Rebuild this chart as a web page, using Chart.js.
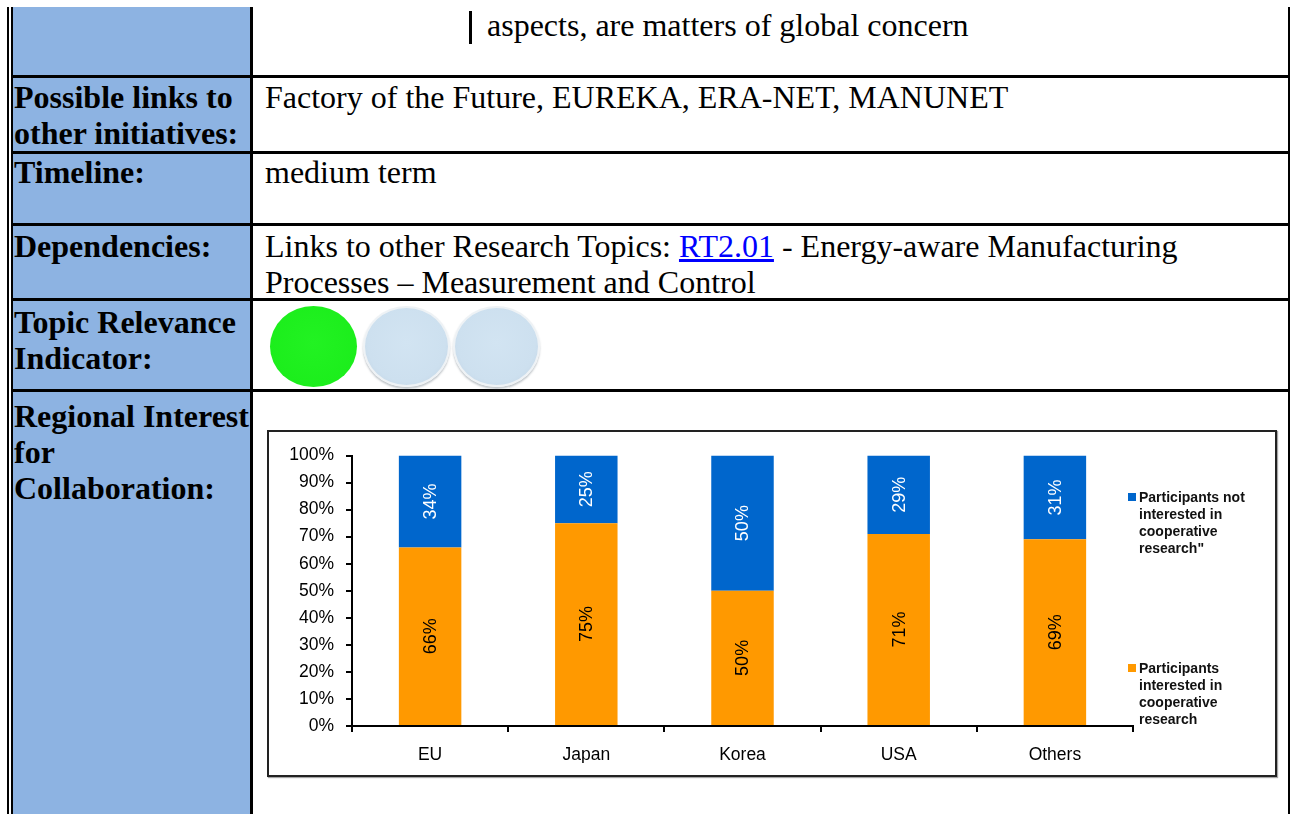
<!DOCTYPE html>
<html>
<head>
<meta charset="utf-8">
<title>Regional Interest for Collaboration</title>
<script src="https://cdn.jsdelivr.net/npm/chart.js@4.4.1/dist/chart.umd.min.js"></script>
<style>
  body {
    margin: 0;
    width: 1292px;
    height: 814px;
    overflow: hidden;
    background: #fff;
    position: relative;
    font-family: "Liberation Serif", "Times New Roman", serif;
  }
  .rule { position: absolute; background: #000; }
  .txt {
    position: absolute;
    font-size: 32px;
    line-height: 36px;
    white-space: nowrap;
    color: #000;
  }
  .lbl { left: 14px; font-weight: bold; }
  .val { left: 265px; }
  .val a { color: #0000ff; text-decoration: underline; }
  .dot {
    position: absolute;
    top: 306px;
    width: 87px;
    height: 81px;
    border-radius: 50%;
    box-sizing: border-box;
  }
  .dot.on {
    background: radial-gradient(circle at 50% 45%, #22f222 0%, #1cee1c 70%, #14dc14 100%);
  }
  .dot.off {
    background: radial-gradient(circle at 50% 45%, #d2e4f2 0%, #cde0ef 65%, #c4d6e6 88%, #f2f5f7 100%);
    border: 2px solid #eef2f5;
    box-shadow: 0 2px 2px rgba(120, 130, 140, 0.45);
  }
  #chartBox {
    position: absolute;
    left: 267px;
    top: 430px;
    width: 1010px;
    height: 347px;
    box-sizing: border-box;
    border: 2px solid #222;
    box-shadow: 1px 1px 1px rgba(0, 0, 0, 0.35);
    background: #fff;
  }
  #chart { position: absolute; left: 1px; top: 1px; }
  .legend {
    position: absolute;
    left: 870px;
    font-family: "Liberation Sans", Arial, sans-serif;
    font-weight: bold;
    font-size: 14px;
    line-height: 17px;
    color: #111;
    white-space: nowrap;
  }
  .legend i {
    position: absolute;
    left: -11px;
    top: 4px;
    width: 8px;
    height: 8px;
  }
</style>
</head>
<body>

<!-- table frame -->
<div class="rule" style="left:13px;top:7px;width:237px;height:820px;background:#8db3e2;"></div>
<div class="rule" style="left:7px;top:7px;width:2px;height:820px;"></div>
<div class="rule" style="left:11px;top:7px;width:2px;height:820px;"></div>
<div class="rule" style="left:250px;top:7px;width:3px;height:820px;"></div>
<div class="rule" style="left:1288px;top:7px;width:2px;height:820px;"></div>
<div class="rule" style="left:11px;top:75px;width:1279px;height:3px;"></div>
<div class="rule" style="left:11px;top:151px;width:1279px;height:3px;"></div>
<div class="rule" style="left:11px;top:223px;width:1279px;height:3px;"></div>
<div class="rule" style="left:11px;top:298px;width:1279px;height:3px;"></div>
<div class="rule" style="left:11px;top:389px;width:1279px;height:3px;"></div>

<!-- row texts -->
<div class="rule" style="left:469px;top:11px;width:3px;height:33px;"></div>
<div class="txt" style="left:487px;top:7px;">aspects, are matters of global concern</div>

<div class="txt lbl" style="top:79px;">Possible links to<br>other initiatives:</div>
<div class="txt val" style="top:79px;">Factory of the Future, EUREKA, ERA-NET, MANUNET</div>

<div class="txt lbl" style="top:154px;">Timeline:</div>
<div class="txt val" style="top:154px;">medium term</div>

<div class="txt lbl" style="top:228px;">Dependencies:</div>
<div class="txt val" style="top:228px;">Links to other Research Topics: <a href="#">RT2.01</a> - Energy-aware Manufacturing<br>Processes – Measurement and Control</div>

<div class="txt lbl" style="top:304px;">Topic Relevance<br>Indicator:</div>
<div class="dot on" style="left:270px;"></div>
<div class="dot off" style="left:363px;"></div>
<div class="dot off" style="left:453px;"></div>

<div class="txt lbl" style="top:398px;">Regional Interest<br>for<br>Collaboration:</div>

<!-- chart -->
<div id="chartBox">
  <canvas id="chart" width="1004" height="342"></canvas>
  <div class="legend" style="top:57px;"><i style="background:#0066cc;"></i>Participants not<br>interested in<br>cooperative<br>research"</div>
  <div class="legend" style="top:228px;"><i style="background:#ff9900;"></i>Participants<br>interested in<br>cooperative<br>research</div>
</div>

<script>
const regions = ['EU', 'Japan', 'Korea', 'USA', 'Others'];
const interested = [66, 75, 50, 71, 69];
const notInterested = [34, 25, 50, 29, 31];
const seriesNames = [
  'Participants interested in cooperative research',
  'Participants not interested in cooperative research"'
];

const axisFont = { family: '"Liberation Sans", Arial, sans-serif', size: 17.5 };

// rotated value labels in the middle of each bar segment
const barLabels = {
  id: 'barLabels',
  afterDatasetsDraw(chart) {
    const ctx = chart.ctx;
    chart.data.datasets.forEach((ds, i) => {
      const meta = chart.getDatasetMeta(i);
      meta.data.forEach((bar, j) => {
        const yMid = (bar.y + bar.base) / 2;
        ctx.save();
        ctx.translate(bar.x, yMid);
        ctx.rotate(-Math.PI / 2);
        ctx.font = '18px "Liberation Sans", Arial, sans-serif';
        ctx.fillStyle = ds.labelColor;
        ctx.textAlign = 'center';
        ctx.textBaseline = 'middle';
        ctx.fillText(ds.data[j] + '%', 0, 1);
        ctx.restore();
      });
    });
  }
};

const data = {
  labels: regions,
  datasets: [{
    label: seriesNames[0],
    data: interested,
    backgroundColor: '#ff9900',
    labelColor: '#000',
  }, {
    label: seriesNames[1],
    data: notInterested,
    backgroundColor: '#0066cc',
    labelColor: '#fff',
  }]
};

const config = {
  type: 'bar',
  data: data,
  plugins: [barLabels],
  options: {
    responsive: false,
    animation: false,
    barPercentage: 0.4,
    categoryPercentage: 1.0,
    layout: { padding: { left: 10, right: 141, top: 16, bottom: 12 } },
    plugins: {
      legend: { display: false },
      tooltip: { enabled: false }
    },
    scales: {
      x: {
        stacked: true,
        afterFit(scale) { scale.height = 37; },
        grid: {
          display: true,
          drawOnChartArea: false,
          drawTicks: true,
          tickLength: 6,
          color: '#000',
          lineWidth: 2,
          offset: true
        },
        border: { display: true, color: '#000', width: 2 },
        ticks: { color: '#000', font: axisFont, padding: 13 }
      },
      y: {
        stacked: true,
        min: 0,
        max: 100,
        afterFit(scale) { scale.width = 72; },
        grid: {
          display: true,
          drawOnChartArea: false,
          drawTicks: true,
          tickLength: 6,
          color: '#000',
          lineWidth: 2
        },
        border: { display: true, color: '#000', width: 2 },
        ticks: {
          stepSize: 10,
          color: '#000',
          font: axisFont,
          padding: 12,
          callback: v => v + '%'
        }
      }
    }
  }
};

const myChart = new Chart(document.getElementById('chart'), config);
</script>
</body>
</html>
